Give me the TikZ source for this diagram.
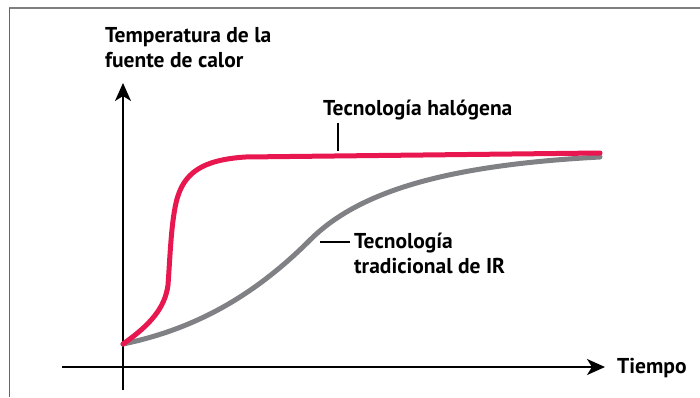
\documentclass[tikz,border=0pt]{standalone}
\usepackage{fontspec}
\setmainfont{PT Sans}
\usetikzlibrary{arrows.meta}
\definecolor{hal}{HTML}{E8174F}
\definecolor{trad}{HTML}{808184}
\definecolor{frame}{HTML}{7F7F7F}
\tikzset{
  lbl/.style={font=\bfseries\fontsize{21.5}{24.5}\selectfont, inner sep=0pt, anchor=base west, align=left},
  axis/.style={line width=2pt, -{Stealth[length=18pt,width=16pt,inset=5pt]}},
  curve/.style={line width=5pt, line cap=round},
  leader/.style={line width=1.4pt},
}
\begin{document}
\begin{tikzpicture}[x=1pt,y=-1pt]
\useasboundingbox (0,0) rectangle (700,397);
% frame
\draw[frame, line width=2pt] (9,8) -- (700,8);
\draw[frame!80!black, line width=1pt] (9,8) -- (9,397);
% axes
\coordinate (ybot) at (123,390);
\coordinate (ytop) at (123,83);
\coordinate (xl) at (62,367);
\coordinate (xr) at (605,367);
\draw[axis] (ybot) -- (ytop);
\draw[axis] (xl) -- (xr);
% curves
\coordinate (o) at (123,344);
\draw[curve, trad] (o) .. controls (190,330) and (250,300) .. (310,240)
   .. controls (360,190) and (450,165) .. (600,157);
\draw[curve, hal] (o) .. controls (150,325) and (165,308) .. (168,285)
   .. controls (170,258) and (171,225) .. (176,203)
   .. controls (183,172) and (203,160) .. (245,157)
   -- (600,153);
% labels (base = baseline of last line)
\node[lbl] (ylab) at (105,67) {Temperatura de la\\fuente de calor};
\node[lbl] (xlab) at (617,373) {Tiempo};
\node[lbl] (hlab) at (323,115) {Tecnología halógena};
\node[lbl] (tlab) at (354,273) {Tecnología\\tradicional de IR};
% leaders
\coordinate (h1) at (338,123);
\coordinate (h2) at (338,151);
\draw[leader] (h1) -- (h2);
\coordinate (t1) at (320,242);
\coordinate (t2) at (350,242);
\draw[leader] (t1) -- (t2);
\end{tikzpicture}
\end{document}
